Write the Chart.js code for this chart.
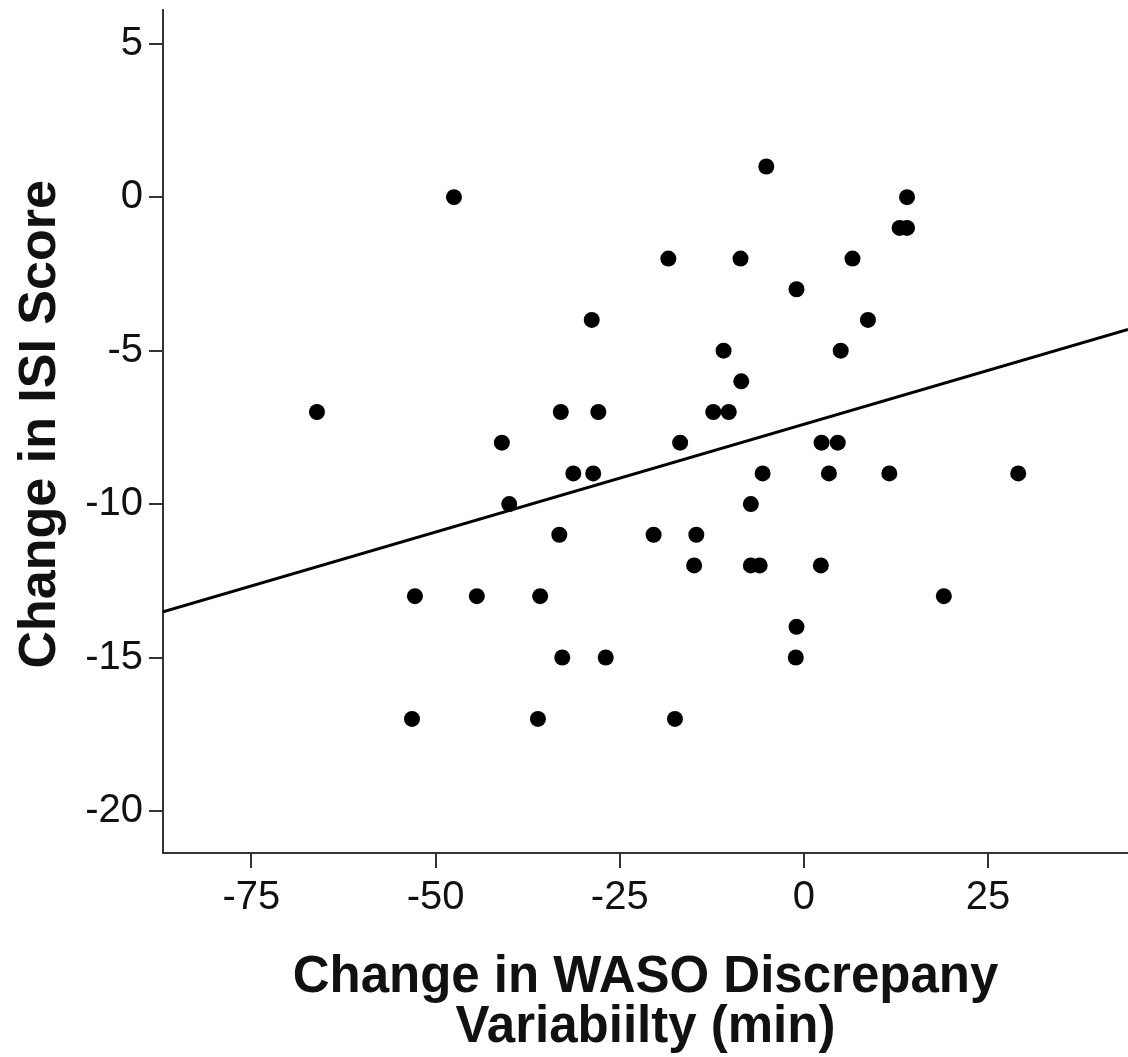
<!DOCTYPE html>
<html>
<head>
<meta charset="utf-8">
<title>Change in ISI Score vs Change in WASO Discrepancy Variability</title>
<script src="https://cdn.jsdelivr.net/npm/chart.js@4.4.1/dist/chart.umd.min.js"></script>
<style>
  html, body { margin: 0; padding: 0; background: #fff; }
  #chart { display: block; }
</style>
</head>
<body>
<canvas id="chart" width="1128" height="1057"></canvas>
<script>
// Data (one entry per participant)
const wasoChange = [
  -5.1,
  -47.5, 14.0,
  13.0, 14.0,
  -18.4, -8.6, 6.6,
  -1.0,
  -28.8, 8.7,
  -10.9, 5.0,
  -8.5,
  -66.1, -33.0, -27.9, -12.3, -10.2,
  -41.0, -16.8, 2.4, 4.6,
  -31.3, -28.6, -5.6, 3.4, 11.6, 29.1,
  -40.0, -7.2,
  -33.2, -20.4, -14.6,
  -14.9, -7.2, -6.0, 2.3,
  -52.8, -44.4, -35.8, 19.0,
  -1.0,
  -32.8, -26.9, -1.1,
  -53.2, -36.1, -17.5
];
const isiChange = [
  1,
  0, 0,
  -1, -1,
  -2, -2, -2,
  -3,
  -4, -4,
  -5, -5,
  -6,
  -7, -7, -7, -7, -7,
  -8, -8, -8, -8,
  -9, -9, -9, -9, -9, -9,
  -10, -10,
  -11, -11, -11,
  -12, -12, -12, -12,
  -13, -13, -13, -13,
  -14,
  -15, -15, -15,
  -17, -17, -17
];

// Fit line
const fitIntercept = -7.40;
const fitSlope = 0.0702;

// Axes
const xTicks = [-75, -50, -25, 0, 25];
const yTicks = [-20, -15, -10, -5, 0, 5];
const xRange = [-87, 44];
const yRange = [-21.37, 6.1];

// Style
const fontFamily = "'Liberation Sans', Arial, sans-serif";
const axisColor = "#333";
const textColor = "#111";

// Build points
const points = wasoChange.map((x, i) => ({ x: x, y: isiChange[i] }));
const fitLine = xRange.map((x) => ({ x: x, y: fitIntercept + fitSlope * x }));

const config = {
  type: "scatter",
  data: {
    datasets: [
      {
        label: "Participants",
        data: points,
        backgroundColor: "#000",
        borderWidth: 0,
        pointRadius: 8,
        pointHoverRadius: 8,
        order: 1,
      },
      {
        label: "Fit",
        data: fitLine,
        showLine: true,
        borderColor: "#000",
        borderWidth: 3,
        pointRadius: 0,
        order: 2,
      },
    ],
  },
  options: {
    responsive: false,
    animation: false,
    devicePixelRatio: 1,
    layout: {
      autoPadding: false,
      padding: { top: 10, right: 0, bottom: 0, left: 0 },
    },
    plugins: {
      legend: { display: false },
      tooltip: { enabled: false },
    },
    scales: {
      x: {
        type: "linear",
        min: xRange[0],
        max: xRange[1],
        afterBuildTicks: (scale) => {
          scale.ticks = xTicks.map((v) => ({ value: v }));
        },
        afterFit: (scale) => {
          scale.height = 204;
          scale.paddingLeft = 0;
          scale.paddingRight = 0;
        },
        grid: {
          drawOnChartArea: false,
          tickLength: 15,
          color: axisColor,
          lineWidth: 2,
        },
        border: { color: axisColor, width: 2 },
        ticks: {
          color: textColor,
          font: { family: fontFamily, size: 40 },
          padding: 6,
          maxRotation: 0,
          autoSkip: false,
        },
        title: {
          display: true,
          text: ["Change in WASO Discrepany", "Variabiilty (min)"],
          color: textColor,
          font: { family: fontFamily, size: 51, weight: "bold", lineHeight: 0.98 },
          padding: { top: 0, bottom: 4 },
        },
      },
      y: {
        type: "linear",
        min: yRange[0],
        max: yRange[1],
        afterBuildTicks: (scale) => {
          scale.ticks = yTicks.map((v) => ({ value: v }));
        },
        afterFit: (scale) => {
          scale.width = 163;
          scale.paddingTop = 0;
          scale.paddingBottom = 0;
        },
        grid: {
          drawOnChartArea: false,
          tickLength: 14,
          color: axisColor,
          lineWidth: 2,
        },
        border: { color: axisColor, width: 2 },
        ticks: {
          color: textColor,
          font: { family: fontFamily, size: 40 },
          padding: 6,
          autoSkip: false,
        },
        title: {
          display: true,
          text: "\u00a0Change in ISI Score",
          color: textColor,
          font: { family: fontFamily, size: 52, weight: "bold", lineHeight: 1 },
          padding: { top: 15, bottom: 0 },
        },
      },
    },
  },
};

const myChart = new Chart(document.querySelector("#chart"), config);
</script>
</body>
</html>
